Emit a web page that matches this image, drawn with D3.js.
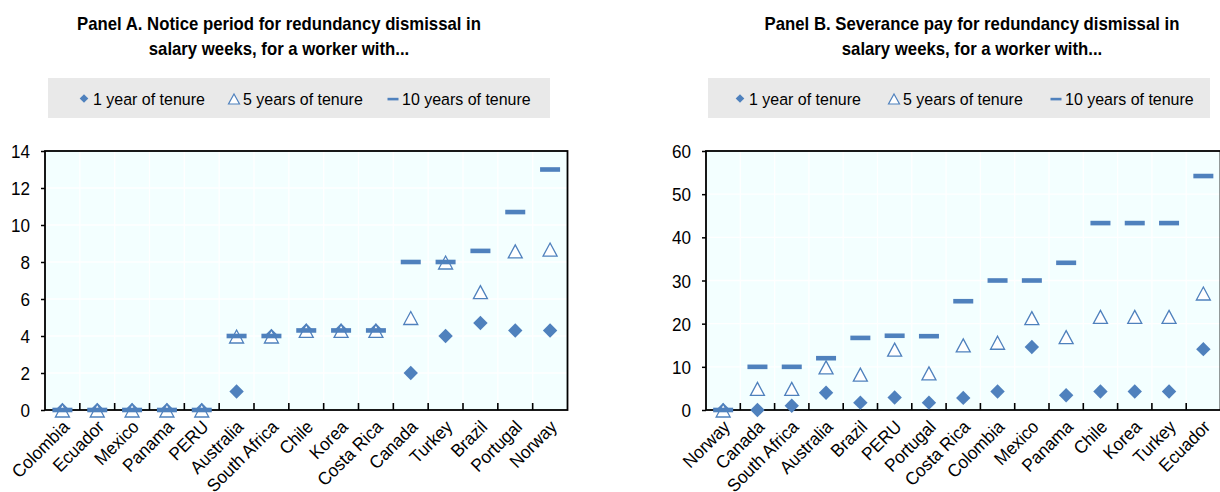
<!DOCTYPE html>
<html>
<head>
<meta charset="utf-8">
<script src="https://cdn.jsdelivr.net/npm/d3@7"></script>
<style>
  html, body { margin: 0; padding: 0; background: #ffffff; }
  svg { display: block; font-family: "Liberation Sans", Arial, sans-serif; }
</style>
</head>
<body>
<svg id="chart" width="1220" height="492"></svg>
<script>
// ---- Panel A: notice period (salary weeks) ----
const noticeCategories = ["Colombia", "Ecuador", "Mexico", "Panama", "PERU", "Australia", "South Africa",
  "Chile", "Korea", "Costa Rica", "Canada", "Turkey", "Brazil", "Portugal", "Norway"];
const noticeTenure1  = [0, 0, 0, 0, 0, 1, 4, 4.3, 4.3, 4.3, 2, 4, 4.7, 4.3, 4.3];
const noticeTenure5  = [0, 0, 0, 0, 0, 4, 4, 4.3, 4.3, 4.3, 5, 8, 6.4, 8.6, 8.7];
const noticeTenure10 = [0, 0, 0, 0, 0, 4, 4, 4.3, 4.3, 4.3, 8, 8, 8.6, 10.7, 13];
const noticeTicks = [0, 2, 4, 6, 8, 10, 12, 14];

// ---- Panel B: severance pay (salary weeks) ----
const severanceCategories = ["Norway", "Canada", "South Africa", "Australia", "Brazil", "PERU", "Portugal",
  "Costa Rica", "Colombia", "Mexico", "Panama", "Chile", "Korea", "Turkey", "Ecuador"];
const severanceTenure1  = [0, 0, 1, 4, 1.7, 2.9, 1.7, 2.8, 4.3, 14.6, 3.4, 4.3, 4.3, 4.3, 14.1];
const severanceTenure5  = [0, 5, 5, 10, 8.3, 14.1, 8.6, 15.1, 15.7, 21.4, 17, 21.7, 21.7, 21.7, 27.1];
const severanceTenure10 = [0, 10, 10, 12, 16.7, 17.2, 17.1, 25.2, 30, 30, 34.1, 43.3, 43.3, 43.3, 54.2];
const severanceTicks = [0, 10, 20, 30, 40, 50, 60];

const legendLabels = ["1 year of tenure", "5 years of tenure", "10 years of tenure"];
const titleA = ["Panel A. Notice period for redundancy dismissal in", "salary weeks, for a worker with..."];
const titleB = ["Panel B. Severance pay for redundancy dismissal in", "salary weeks, for a worker with..."];

const BLUE = "#4F81BD";
const PLOT_BG = "#F3FFFF";
const LEGEND_BG = "#E9E9E9";
const TXT = "#000000";

const svg = d3.select("#chart");

// text helper: slightly condensed glyphs
function label(g, x, y, str, o = {}) {
  const sx = o.sx ?? 0.95;
  const rot = o.rotate ? ` rotate(${o.rotate})` : "";
  return g.append("text")
    .attr("transform", `translate(${x},${y})${rot} scale(${sx},1)`)
    .attr("text-anchor", o.anchor || "start")
    .attr("font-size", o.size || 16)
    .attr("font-weight", o.weight || "normal")
    .attr("fill", TXT)
    .text(str);
}

const diamondPath = s => `M0,${-s}L${s},0L0,${s}L${-s},0Z`;
const trianglePath = (w, h) => `M0,${-h / 2}L${w / 2},${h / 2}L${-w / 2},${h / 2}Z`;

function drawPanel(cfg) {
  const g = svg.append("g");
  const { left, right, top, bottom } = cfg.plot;

  // title
  cfg.title.forEach((t, i) =>
    label(g, cfg.titleX, 30 + i * 25, t, { anchor: "middle", size: 18, weight: "bold", sx: 0.93 }));

  // legend
  const lg = cfg.legend;
  g.append("rect").attr("x", lg.x).attr("y", 78).attr("width", lg.w).attr("height", 40).attr("fill", LEGEND_BG);
  g.append("path").attr("d", diamondPath(4.3))
    .attr("transform", `translate(${lg.items[0]},${98.5})`).attr("fill", BLUE);
  g.append("path").attr("d", trianglePath(11, 10))
    .attr("transform", `translate(${lg.items[1]},${99})`).attr("fill", "#fff")
    .attr("stroke", BLUE).attr("stroke-width", 1.2);
  g.append("rect").attr("x", lg.items[2] - 5.5).attr("y", 97.8).attr("width", 11).attr("height", 2.6).attr("fill", BLUE);
  legendLabels.forEach((t, i) => label(g, lg.items[i] + 9, 105, t, { size: 17, sx: 0.94 }));

  const x = d3.scaleBand().domain(cfg.categories).range([left, right]).padding(0);
  const y = d3.scaleLinear().domain([0, d3.max(cfg.ticks)]).range([bottom, top]);

  // clip so the frame can run past the page edge
  const clipId = "clip-" + cfg.id;
  svg.append("clipPath").attr("id", clipId)
    .append("rect").attr("x", 0).attr("y", 0).attr("width", 1220).attr("height", 492);

  const plot = g.append("g").attr("clip-path", `url(#${clipId})`);
  plot.append("rect").attr("x", left).attr("y", top).attr("width", right - left).attr("height", bottom - top)
    .attr("fill", PLOT_BG);

  // white grid
  plot.selectAll(".hgrid").data(cfg.ticks.slice(1, -1)).join("line")
    .attr("x1", left).attr("x2", right).attr("y1", d => y(d)).attr("y2", d => y(d))
    .attr("stroke", "#fff").attr("stroke-width", 1.3);
  plot.selectAll(".vgrid").data(cfg.categories.slice(1)).join("line")
    .attr("x1", d => x(d)).attr("x2", d => x(d)).attr("y1", top).attr("y2", bottom)
    .attr("stroke", "#fff").attr("stroke-width", 1.3);

  // y axis
  const yAxis = g.append("g").attr("transform", `translate(${left},0)`)
    .call(d3.axisLeft(y).tickValues(cfg.ticks).tickSize(4).tickPadding(0).tickFormat(d3.format("d")));
  yAxis.select(".domain").remove();
  yAxis.selectAll(".tick line").attr("stroke", "#000").attr("stroke-width", 1.5);
  yAxis.selectAll(".tick text")
    .attr("x", null).attr("dy", null)
    .attr("transform", "translate(-15,6.5) scale(0.95,1)")
    .attr("font-size", 18).attr("fill", TXT).attr("font-family", null);

  // x axis (category labels)
  const xAxis = g.append("g").attr("transform", `translate(0,${bottom})`)
    .call(d3.axisBottom(x).tickSize(0).tickPadding(0));
  xAxis.select(".domain").remove();
  xAxis.selectAll(".tick text")
    .attr("x", null).attr("y", null).attr("dy", null)
    .attr("text-anchor", "end")
    .attr("transform", "translate(8,18) rotate(-45) scale(0.95,1)")
    .attr("font-size", 18).attr("fill", TXT).attr("font-family", null);

  // inner ticks at category boundaries
  plot.selectAll(".xtick").data(cfg.categories.slice(1)).join("line")
    .attr("x1", d => x(d)).attr("x2", d => x(d)).attr("y1", bottom).attr("y2", bottom - 7)
    .attr("stroke", "#000").attr("stroke-width", 1.6);

  // frame
  plot.append("rect").attr("x", left).attr("y", top).attr("width", right - left).attr("height", bottom - top)
    .attr("fill", "none").attr("stroke", "#000").attr("stroke-width", 1.8);

  // markers
  const cx = d => x(d) + x.bandwidth() / 2;
  const rows = cfg.categories.map((c, i) => ({ c, v1: cfg.s1[i], v5: cfg.s5[i], v10: cfg.s10[i] }));
  plot.selectAll(".m1").data(rows).join("path")
    .attr("d", diamondPath(7.2))
    .attr("transform", d => `translate(${cx(d.c)},${y(d.v1)})`)
    .attr("fill", BLUE);
  plot.selectAll(".m5").data(rows).join("path")
    .attr("d", trianglePath(14, 13))
    .attr("transform", d => `translate(${cx(d.c)},${y(d.v5) + 0.5})`)
    .attr("fill", "#fff").attr("stroke", BLUE).attr("stroke-width", 1.3);
  plot.selectAll(".m10").data(rows).join("rect")
    .attr("x", d => cx(d.c) - 10).attr("y", d => y(d.v10) - 2.3)
    .attr("width", 20).attr("height", 4.6)
    .attr("fill", BLUE);
}

drawPanel({
  id: "a",
  categories: noticeCategories, s1: noticeTenure1, s5: noticeTenure5, s10: noticeTenure10, ticks: noticeTicks,
  plot: { left: 45, right: 567.5, top: 151, bottom: 410 },
  title: titleA, titleX: 279,
  legend: { x: 48, w: 502, items: [84, 234, 393] }
});

drawPanel({
  id: "b",
  categories: severanceCategories, s1: severanceTenure1, s5: severanceTenure5, s10: severanceTenure10, ticks: severanceTicks,
  plot: { left: 706, right: 1220.5, top: 151, bottom: 410 },
  title: titleB, titleX: 972,
  legend: { x: 708, w: 502, items: [740, 894, 1056] }
});
</script>
</body>
</html>
